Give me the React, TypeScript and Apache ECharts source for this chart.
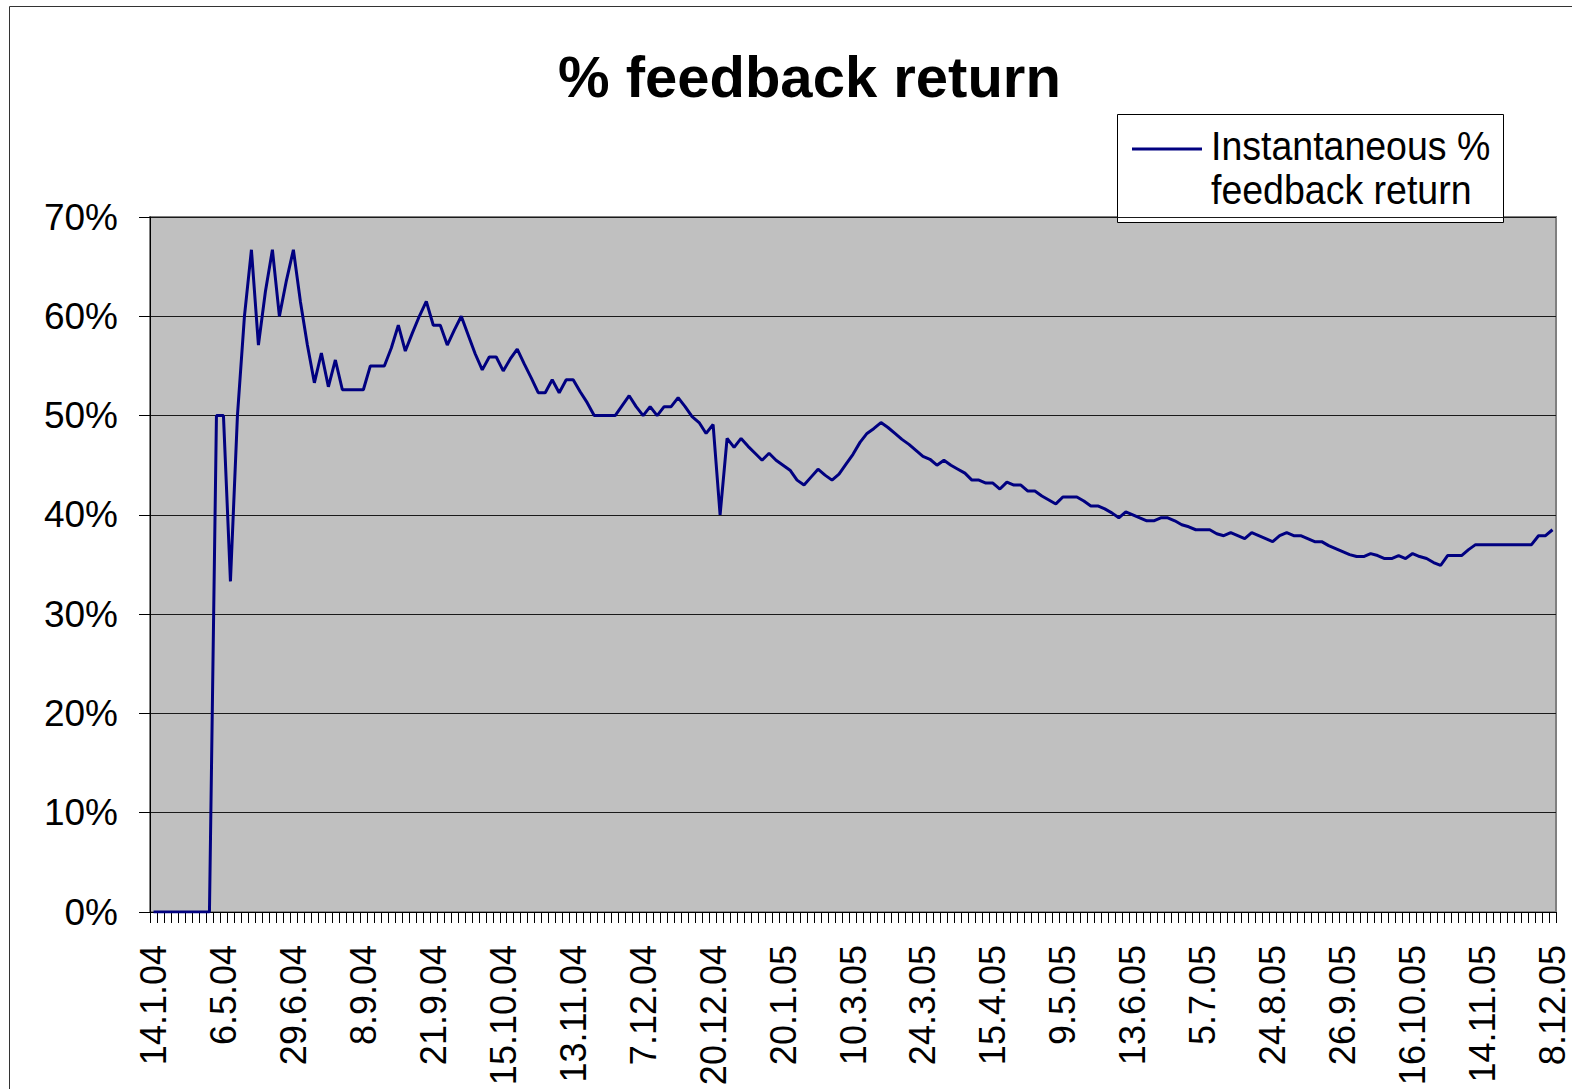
import React, { useEffect, useRef } from "react";
import * as echarts from "echarts";

const titleText = "% feedback return";
const seriesName = "Instantaneous % feedback return";
const legendLines = ["Instantaneous %", "feedback return"];

const tickLabels = [
  "14.1.04", "6.5.04", "29.6.04", "8.9.04", "21.9.04", "15.10.04", "13.11.04",
  "7.12.04", "20.12.04", "20.1.05", "10.3.05", "24.3.05", "15.4.05", "9.5.05",
  "13.6.05", "5.7.05", "24.8.05", "26.9.05", "16.10.05", "14.11.05", "8.12.05",
];

// one category per reporting step; every 10th carries a date label
const categories = Array.from({ length: 201 }, (_, i) => String(i));

const feedbackReturn = [
  0, 0, 0, 0, 0, 0, 0, 0, 0, 50,
  50, 33.3, 50, 60, 66.7, 57.1, 62.5, 66.7, 60, 63.6,
  66.7, 61.5, 57.1, 53.3, 56.3, 52.9, 55.6, 52.6, 52.6, 52.6,
  52.6, 55.0, 55.0, 55.0, 56.8, 59.1, 56.5, 58.3, 60.0, 61.5,
  59.1, 59.1, 57.1, 58.6, 60.0, 58.1, 56.2, 54.6, 55.9, 55.9,
  54.5, 55.7, 56.7, 55.2, 53.8, 52.3, 52.3, 53.6, 52.3, 53.6,
  53.6, 52.4, 51.3, 50, 50, 50, 50, 51.0, 52.0, 50.9,
  50, 50.9, 50, 50.9, 50.9, 51.8, 50.9, 49.9, 49.3, 48.2,
  49.1, 40.0, 47.7, 46.8, 47.7, 46.9, 46.2, 45.5, 46.2, 45.5,
  45.0, 44.5, 43.5, 43.0, 43.8, 44.6, 44.0, 43.5, 44.1, 45.1,
  46.1, 47.3, 48.2, 48.7, 49.3, 48.8, 48.2, 47.6, 47.1, 46.5,
  45.9, 45.6, 45.0, 45.5, 45.0, 44.6, 44.2, 43.5, 43.5, 43.2,
  43.2, 42.6, 43.3, 43.0, 43.0, 42.4, 42.4, 41.9, 41.5, 41.1,
  41.8, 41.8, 41.8, 41.4, 40.9, 40.9, 40.6, 40.2, 39.7, 40.3,
  40.0, 39.7, 39.4, 39.4, 39.7, 39.7, 39.4, 39.0, 38.8, 38.5,
  38.5, 38.5, 38.1, 37.9, 38.2, 37.9, 37.6, 38.2, 37.9, 37.6,
  37.3, 37.9, 38.2, 37.9, 37.9, 37.6, 37.3, 37.3, 36.9, 36.6,
  36.3, 36.0, 35.8, 35.8, 36.1, 35.9, 35.6, 35.6, 35.9, 35.6,
  36.1, 35.8, 35.6, 35.2, 34.9, 35.9, 35.9, 35.9, 36.5, 37.0,
  37.0, 37.0, 37.0, 37.0, 37.0, 37.0, 37.0, 37.0, 37.9, 37.9,
  38.5,
];

const yMin = 0;
const yMax = 70;
const yStep = 10;

const FONT = "'Liberation Sans', Arial, sans-serif";

export default function App() {
  const ref = useRef<HTMLDivElement>(null);

  useEffect(() => {
    if (!ref.current) return;
    const chart = echarts.init(ref.current, undefined, { renderer: "svg" });
    chart.setOption({
      animation: false,
      backgroundColor: "#ffffff",
      textStyle: { fontFamily: FONT },
      title: {
        text: titleText,
        left: 558,
        top: 47,
        padding: 0,
        textStyle: {
          fontFamily: FONT,
          fontSize: 58,
          fontWeight: "bold",
          color: "#000000",
        },
      },
      grid: {
        left: 150,
        top: 217,
        width: 1406,
        height: 695,
        show: true,
        backgroundColor: "#C0C0C0",
        borderColor: "#808080",
        borderWidth: 2,
        containLabel: false,
      },
      xAxis: {
        type: "category",
        data: categories,
        boundaryGap: true,
        axisLine: { show: true, lineStyle: { color: "#000000", width: 1 } },
        axisTick: {
          show: true,
          interval: 0,
          length: 11,
          lineStyle: { color: "#000000", width: 1 },
        },
        axisLabel: {
          interval: 9,
          rotate: 90,
          margin: 33,
          fontSize: 36,
          fontFamily: FONT,
          color: "#000000",
          formatter: (_v: string, idx: number) =>
            idx % 10 === 0 ? tickLabels[idx / 10] ?? "" : "",
        },
        splitLine: { show: false },
      },
      yAxis: {
        type: "value",
        min: yMin,
        max: yMax,
        interval: yStep,
        axisLine: { show: true, lineStyle: { color: "#000000", width: 1 } },
        axisTick: {
          show: true,
          length: 11,
          lineStyle: { color: "#000000", width: 1 },
        },
        axisLabel: {
          margin: 32,
          fontSize: 37,
          fontFamily: FONT,
          color: "#000000",
          formatter: "{value}%",
        },
        splitLine: { show: true, lineStyle: { color: "#1a1a1a", width: 1 } },
      },
      series: [
        {
          name: seriesName,
          type: "line",
          data: feedbackReturn,
          showSymbol: false,
          symbol: "none",
          lineStyle: { color: "#000080", width: 3 },
          itemStyle: { color: "#000080" },
          z: 5,
        },
      ],
      graphic: [
        {
          type: "rect",
          shape: { x: 9.5, y: 6.5, width: 1800, height: 1400 },
          style: { fill: "none", stroke: "#333333", lineWidth: 1 },
          silent: true,
          z: 1,
        },
        {
          type: "group",
          z: 100,
          children: [
            {
              type: "rect",
              shape: { x: 1117.5, y: 114.5, width: 386, height: 108 },
              style: { fill: "#ffffff", stroke: "#000000", lineWidth: 1 },
            },
            {
              type: "line",
              shape: { x1: 1132, y1: 149, x2: 1202, y2: 149 },
              style: { stroke: "#000080", lineWidth: 3 },
            },
            {
              type: "text",
              x: 1211,
              y: 146,
              scaleY: 1.07,
              style: {
                text: legendLines[0],
                fontFamily: FONT,
                fontSize: 37.5,
                fill: "#000000",
                align: "left",
                verticalAlign: "middle",
              },
            },
            {
              type: "text",
              x: 1211,
              y: 190,
              scaleY: 1.07,
              style: {
                text: legendLines[1],
                fontFamily: FONT,
                fontSize: 37.5,
                fill: "#000000",
                align: "left",
                verticalAlign: "middle",
              },
            },
          ],
        },
      ],
    });
    return () => chart.dispose();
  }, []);

  return (
    <div
      ref={ref}
      style={{
        position: "fixed",
        left: 0,
        top: 0,
        width: "1572px",
        height: "1089px",
      }}
    />
  );
}
